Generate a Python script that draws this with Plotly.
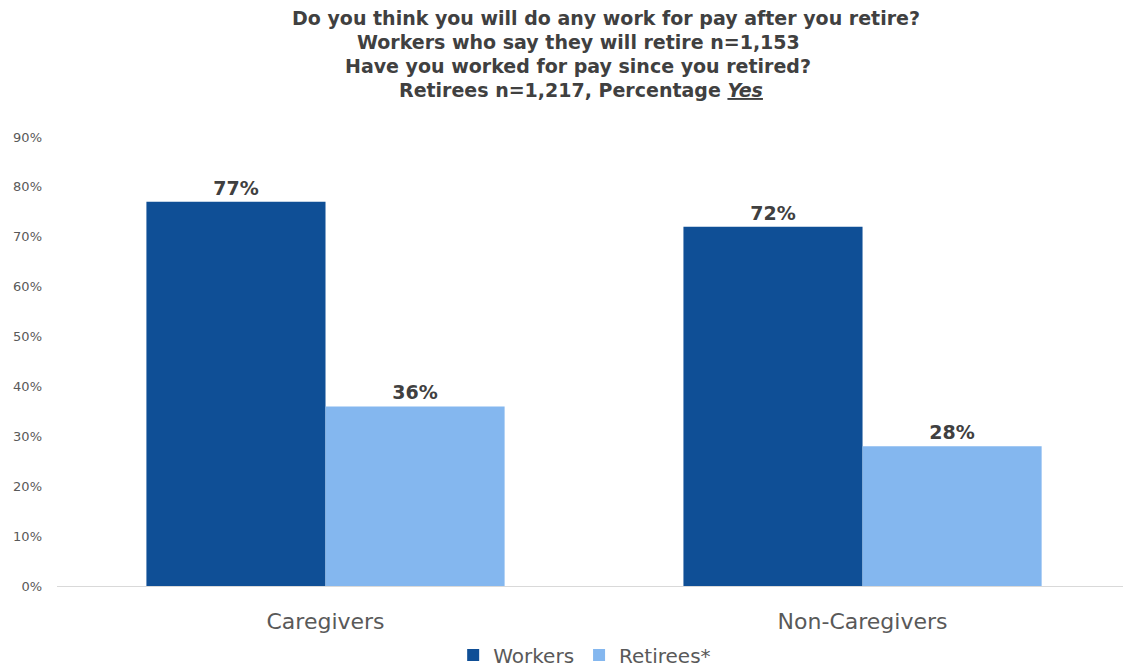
import plotly.graph_objects as go

categories = ["Caregivers", "Non-Caregivers"]
workers = [0.77, 0.72]
retirees = [0.36, 0.28]
series_names = ["Workers", "Retirees*"]
title_lines = [
    "Do you think you will do any work for pay after you retire?",
    "Workers who say they will retire n=1,153",
    "Have you worked for pay since you retired?",
    "Retirees n=1,217, Percentage <u><i>Yes</i></u>",
]

FONT = "DejaVu Sans"
L, R, T, B = 57, 0, 137, 85
H = 671
PH = H - T - B

fig = go.Figure()
for name, vals, color in [(series_names[0], workers, "#0F4F96"), (series_names[1], retirees, "#84B7EF")]:
    fig.add_trace(go.Bar(
        x=categories, y=vals, name=name, marker_color=color, marker_line_width=0,
        texttemplate="<b>%{y:.0%}</b>", textposition="outside",
        textfont=dict(family=FONT, size=19, color="#404040"), cliponaxis=False,
    ))

def ypaper(px):
    return 1 + (T - px) / PH

title_y = [18, 42, 66, 90]
title_x = [606, 578, 578, 581]
for line, yp, xp in zip(title_lines, title_y, title_x):
    fig.add_annotation(
        text="<b>" + line + "</b>", xref="paper", yref="paper",
        x=(xp - L) / (1123 - L - R), y=ypaper(yp), xanchor="center", yanchor="middle",
        showarrow=False, font=dict(family=FONT, size=19, color="#404040"),
    )

fig.update_layout(
    width=1123, height=671,
    margin=dict(l=L, r=R, t=T, b=B, autoexpand=False),
    plot_bgcolor="white", paper_bgcolor="white",
    barmode="group", bargap=0.333, bargroupgap=0,
    showlegend=True,
    legend=dict(orientation="h", x=0.495, xanchor="center", y=ypaper(655), yanchor="middle",
                font=dict(family=FONT, size=20, color="#595959"), itemwidth=30, traceorder="normal",
                tracegroupgap=0),
    font=dict(family=FONT, color="#595959"),
)
fig.update_xaxes(
    range=[-0.5, 1.485], showline=True, linecolor="#D9D9D9", linewidth=1,
    showgrid=False, ticks="", tickfont=dict(family=FONT, size=22, color="#595959"),
    ticklabelstandoff=16, automargin=False,
)
fig.update_yaxes(
    range=[0, 0.9], dtick=0.1, tickformat=".0%", showgrid=False, zeroline=False,
    showline=False, ticks="", tickfont=dict(family=FONT, size=13, color="#595959"),
    ticklabelstandoff=14, automargin=False,
)

fig.write_html("out.html", config={"displayModeBar": False},
               post_script="document.body.style.margin='0';document.body.style.overflow='hidden';")
